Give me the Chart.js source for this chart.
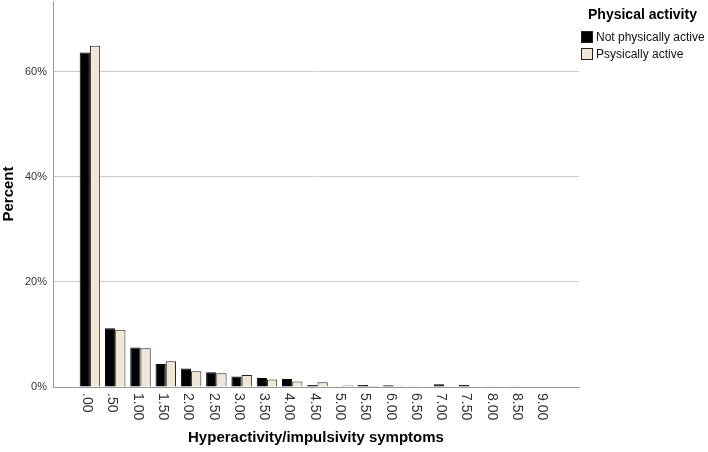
<!DOCTYPE html>
<html>
<head>
<meta charset="utf-8">
<script src="https://cdn.jsdelivr.net/npm/chart.js@4.4.1/dist/chart.umd.min.js"></script>
<style>
  body { margin: 0; background: #ffffff; }
  #wrap { width: 708px; height: 452px; }
</style>
</head>
<body>
<div id="wrap"><canvas id="myChart" width="708" height="452"></canvas></div>
<script>
// symptom score categories (x axis)
var scores = [0, 0.5, 1, 1.5, 2, 2.5, 3, 3.5, 4, 4.5, 5, 5.5, 6, 6.5, 7, 7.5, 8, 8.5, 9];
var scoreLabels = [".00", ".50", "1.00", "1.50", "2.00", "2.50", "3.00", "3.50", "4.00", "4.50",
  "5.00", "5.50", "6.00", "6.50", "7.00", "7.50", "8.00", "8.50", "9.00"];
// percent per group
var notActive = [63.7, 11.2, 7.5, 4.4, 3.5, 2.8, 2.0, 1.7, 1.5, 0.4, 0.15, 0.4, 0.35, 0.15, 0.5, 0.4, 0.15, 0.15, 0.1];
var active = [65.0, 10.9, 7.4, 4.9, 3.0, 2.6, 2.3, 1.45, 1.05, 0.9, 0.3, 0.2, 0.25, 0.15, 0.15, 0.1, 0.1, 0.1, 0.15];
var yTicks = [0, 20, 40, 60];

var font = "'Liberation Sans', Arial, sans-serif";

function points(vals) {
  return scores.map(function (s, i) { return { x: s, y: vals[i] }; });
}

// rotated category labels + legend
var extras = {
  id: "extras",
  afterDraw: function (chart) {
    var ctx = chart.ctx;
    var xs = chart.scales.x;
    ctx.save();
    ctx.fillStyle = "#333333";
    ctx.font = "14px " + font;
    ctx.textAlign = "left";
    ctx.textBaseline = "middle";
    scores.forEach(function (s, i) {
      var px = xs.getPixelForValue(s) - 3;
      ctx.save();
      ctx.translate(px, chart.chartArea.bottom + 6);
      ctx.rotate(Math.PI / 2);
      ctx.fillText(scoreLabels[i], 0, 0);
      ctx.restore();
    });

    // legend
    ctx.fillStyle = "#000000";
    ctx.font = "bold 14px " + font;
    ctx.textAlign = "left";
    ctx.fillText("Physical activity", 588, 15);
    ctx.font = "12px " + font;
    chart.data.datasets.forEach(function (ds, i) {
      var y = 31 + i * 17;
      ctx.fillStyle = ds.backgroundColor;
      ctx.fillRect(581, y, 12, 12);
      ctx.strokeStyle = "#222222";
      ctx.lineWidth = 1;
      ctx.strokeRect(581.5, y + 0.5, 11, 11);
      ctx.fillStyle = "#111111";
      ctx.fillText(ds.label, 596, y + 6.5);
    });
    ctx.restore();
  }
};

var ctx = document.getElementById("myChart").getContext("2d");
var myChart = new Chart(ctx, {
  type: "bar",
  data: {
    datasets: [
      {
        label: "Not physically active",
        data: points(notActive),
        backgroundColor: "#000000",
        borderColor: "#000000",
        borderWidth: 1,
      },
      {
        label: "Psysically active",
        data: points(active),
        backgroundColor: "#EEE7D3",
        borderColor: "#222222",
        borderWidth: 1,
      },
    ],
  },
  options: {
    responsive: false,
    animation: false,
    layout: {
      padding: { top: 1, right: 129, left: 0, bottom: 0 },
    },
    datasets: {
      bar: {
        categoryPercentage: 0.81,
        barPercentage: 1,
      },
    },
    plugins: {
      legend: { display: false },
      tooltip: { enabled: false },
    },
    scales: {
      x: {
        type: "linear",
        min: -0.73,
        max: 9.67,
        offset: false,
        grid: { display: false, offset: false },
        border: { color: "#999999", width: 1 },
        ticks: { display: false },
        title: {
          display: true,
          text: "Hyperactivity/impulsivity symptoms",
          color: "#000000",
          font: { family: font, size: 15, weight: "bold" },
          padding: { top: 0, bottom: 5 },
        },
        afterFit: function (scale) {
          scale.height = 65;
          scale.paddingLeft = 0;
          scale.paddingRight = 0;
        },
      },
      y: {
        min: 0,
        max: 73.5,
        grid: {
          color: "#cccccc",
          drawTicks: false,
        },
        border: { color: "#999999", width: 1 },
        afterBuildTicks: function (scale) {
          scale.ticks = yTicks.map(function (v) { return { value: v }; });
        },
        ticks: {
          padding: 6,
          color: "#333333",
          font: { family: font, size: 11 },
          callback: function (v) { return v + "%"; },
        },
        title: {
          display: true,
          text: "Percent",
          color: "#000000",
          font: { family: font, size: 15, weight: "bold" },
          padding: 0,
        },
        afterFit: function (scale) {
          scale.width = 53;
          scale.paddingTop = 0;
          scale.paddingBottom = 0;
        },
      },
    },
  },
  plugins: [extras],
});
</script>
</body>
</html>
